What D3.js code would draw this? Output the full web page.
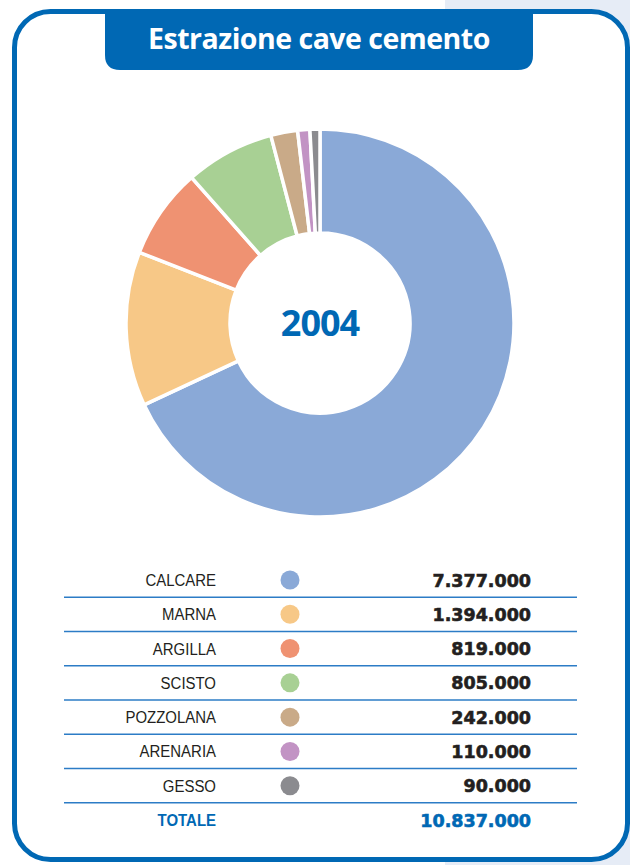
<!DOCTYPE html>
<html>
<head>
<meta charset="utf-8">
<script src="https://cdn.jsdelivr.net/npm/d3@7"></script>
<style>
  html, body { margin: 0; padding: 0; background: #ffffff; }
  svg { display: block; }
</style>
</head>
<body>
<svg id="chart" width="630" height="865"></svg>
<script>
// Cement quarry extraction, 2004 (tonnes)
const categories = ["CALCARE", "MARNA", "ARGILLA", "SCISTO", "POZZOLANA", "ARENARIA", "GESSO"];
const values = [7377000, 1394000, 819000, 805000, 242000, 110000, 90000];
const colors = ["#8aa9d7", "#f7c887", "#ef9272", "#a8d094", "#c9aa88", "#c293c4", "#8b8b8f"];
const totalLabel = "TOTALE";
const titleText = "Estrazione cave cemento";
const yearText = "2004";

const blue = "#0068b4";
const svg = d3.select("#chart");
const W = 630, H = 865;

// page background: light band on the right side
svg.append("rect").attr("x", 445).attr("y", 0).attr("width", W - 445).attr("height", H)
  .attr("fill", "#e6ecf6");

// rounded frame
svg.append("rect")
  .attr("x", 14.5).attr("y", 11.5).attr("width", 613).attr("height", 848)
  .attr("rx", 36).attr("ry", 36)
  .attr("fill", "#ffffff").attr("stroke", blue).attr("stroke-width", 5);

// title tab
const tx0 = 105, tx1 = 533, ty0 = 10, ty1 = 70, tr = 15;
svg.append("path")
  .attr("d", `M${tx0},${ty0} L${tx1},${ty0} L${tx1},${ty1 - tr} Q${tx1},${ty1} ${tx1 - tr},${ty1}
              L${tx0 + tr},${ty1} Q${tx0},${ty1} ${tx0},${ty1 - tr} Z`)
  .attr("fill", blue);
svg.append("text")
  .attr("x", (tx0 + tx1) / 2).attr("y", 49)
  .attr("text-anchor", "middle")
  .attr("font-family", "'Open Sans', 'Noto Sans', sans-serif")
  .attr("font-weight", 700).attr("font-size", 28.5).attr("letter-spacing", -0.5)
  .attr("fill", "#ffffff")
  .text(titleText);

// donut
const cx = 320, cy = 323, rOuter = 194, rInner = 90;
const pie = d3.pie().sort(null).value(d => d.value);
const arc = d3.arc().innerRadius(rInner).outerRadius(rOuter);
const data = categories.map((c, i) => ({ name: c, value: values[i], color: colors[i] }));

const g = svg.append("g").attr("transform", `translate(${cx},${cy})`);
g.selectAll("path.slice")
  .data(pie(data))
  .join("path")
  .attr("class", "slice")
  .attr("d", arc)
  .attr("fill", d => d.data.color)
  .attr("stroke", "#ffffff")
  .attr("stroke-width", 3.5)
  .attr("stroke-linejoin", "round");

g.append("text")
  .attr("x", 0).attr("y", 13)
  .attr("text-anchor", "middle")
  .attr("font-family", "'Open Sans', 'Noto Sans', sans-serif")
  .attr("font-weight", 700).attr("font-size", 36).attr("letter-spacing", -1)
  .attr("fill", blue)
  .text(yearText);

// legend table
const fmt = d3.formatLocale({ decimal: ",", thousands: ".", grouping: [3], currency: ["", ""] }).format(",d");
const rowY = d3.scalePoint().domain(d3.range(categories.length + 1)).range([580, 820]);
const labelX = 216, dotX = 290, valueX = 531, lineX0 = 64, lineX1 = 577;
const total = d3.sum(values);
const narrow = 0.88;

const rows = svg.append("g");
function label(y, text, color, weight) {
  rows.append("text")
    .attr("transform", `translate(${labelX},${y + 6}) scale(${narrow},1)`)
    .attr("text-anchor", "end")
    .attr("font-family", "'Liberation Sans', Arial, sans-serif")
    .attr("font-weight", weight).attr("font-size", 17)
    .attr("fill", color)
    .text(text);
}
function value(y, text, color) {
  rows.append("text")
    .attr("x", valueX).attr("y", y + 6.5)
    .attr("text-anchor", "end")
    .attr("font-family", "'DejaVu Sans', sans-serif")
    .attr("font-weight", 700).attr("font-size", 17.5)
    .attr("fill", color)
    .attr("stroke", color).attr("stroke-width", 0.6)
    .text(text);
}

data.forEach((d, i) => {
  const y = rowY(i);
  label(y, d.name, "#231f20", 400);
  rows.append("circle")
    .attr("cx", dotX).attr("cy", y).attr("r", 9.5)
    .attr("fill", d.color);
  value(y, fmt(d.value), "#231f20");
  const ly = (rowY(i) + rowY(i + 1)) / 2;
  rows.append("line")
    .attr("x1", lineX0).attr("x2", lineX1).attr("y1", ly).attr("y2", ly)
    .attr("stroke", "#2c7cc6").attr("stroke-width", 1.5);
});

const ty = rowY(categories.length);
label(ty, totalLabel, blue, 700);
value(ty, fmt(total), blue);
</script>
</body>
</html>
